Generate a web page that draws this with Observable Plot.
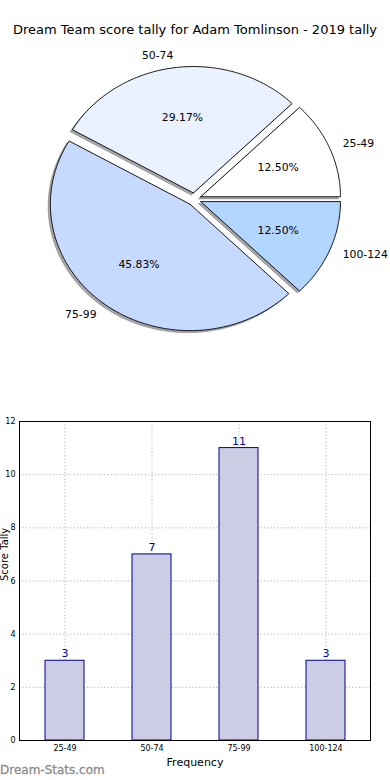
<!DOCTYPE html>
<html>
<head>
<meta charset="utf-8">
<script src="https://cdn.jsdelivr.net/npm/d3@7"></script>
<script src="https://cdn.jsdelivr.net/npm/@observablehq/plot@0.6"></script>
<style>
  html, body { margin: 0; padding: 0; background: #fff; }
  #wrap { position: relative; width: 390px; height: 780px; overflow: hidden; font-family: "DejaVu Sans", sans-serif; }
  #title { position: absolute; left: 0; top: 22px; width: 390px; text-align: center; font-size: 13px; color: #000; white-space: nowrap; }
  #pie { position: absolute; left: 0; top: 0; }
  #bar { position: absolute; left: 0; top: 400px; }
  #mark { position: absolute; left: 0; top: 763px; font-size: 12px; color: #8c8c8c; font-family: "DejaVu Sans", sans-serif; -webkit-text-stroke: 0.3px #8c8c8c; }
</style>
</head>
<body>
<div id="wrap">
  <div id="pie"></div>
  <div id="bar"></div>
  <div id="title">Dream Team score tally for Adam Tomlinson - 2019 tally</div>
  <div id="mark">Dream-Stats.com</div>
</div>
<script>
// ---- data ----
const categories = ["25-49", "50-74", "75-99", "100-124"];
const counts = [3, 7, 11, 3];
const pieColors = ["#ffffff", "#eaf1ff", "#c6d9ff", "#b3d6ff"];
const yTicks = [0, 2, 4, 6, 8, 10, 12];
const yLabel = "Score Tally";
const xLabel = "Frequency";

// ---- pie geometry (matplotlib-like, start at 0deg, counterclockwise, explode 0.05) ----
const total = d3.sum(counts);
const explode = 0.05;
const slices = [];
let acc = 0;
counts.forEach((c, i) => {
  const t1 = acc / total * 360;
  acc += c;
  const t2 = acc / total * 360;
  const mid = (t1 + t2) / 2 * Math.PI / 180;
  slices.push({cat: categories[i], count: c, t1, t2, mid, dx: explode * Math.cos(mid), dy: explode * Math.sin(mid), color: pieColors[i], pct: (c / total * 100).toFixed(2) + "%"});
});
function slicePoly(s, ox, oy) {
  const pts = [{cat: s.cat, x: s.dx + ox, y: s.dy + oy}];
  const n = Math.max(2, Math.ceil(s.t2 - s.t1));
  for (let k = 0; k <= n; k++) {
    const a = (s.t1 + (s.t2 - s.t1) * k / n) * Math.PI / 180;
    pts.push({cat: s.cat, x: s.dx + ox + Math.cos(a), y: s.dy + oy + Math.sin(a)});
  }
  pts.push({cat: s.cat, x: s.dx + ox, y: s.dy + oy});
  return pts;
}
const shadowPts = slices.flatMap(s => slicePoly(s, -0.016, -0.016));
const wedgePts = slices.flatMap(s => slicePoly(s, 0, 0));
const labelPts = slices.map(s => ({cat: s.cat, x: 1.1 * Math.cos(s.mid) + s.dx, y: 1.1 * Math.sin(s.mid) + s.dy, anchor: Math.cos(s.mid) > 0 ? "start" : "end"}));
const pctPts = slices.map(s => ({pct: s.pct, x: 0.6 * Math.cos(s.mid) + s.dx, y: 0.6 * Math.sin(s.mid) + s.dy}));

const W = 390, PH = 400;
const cx = 193.8, cy = 198.7, rx = 139.7, ry = 126.4;
const pie = Plot.plot({
  width: W, height: PH, margin: 0,
  style: {fontFamily: "DejaVu Sans, sans-serif", background: "transparent"},
  x: {domain: [-cx / rx, (W - cx) / rx], range: [0, W], axis: null},
  y: {domain: [(cy - PH) / ry, cy / ry], range: [PH, 0], axis: null},
  color: {domain: categories, range: pieColors},
  marks: [
    Plot.line(shadowPts, {x: "x", y: "y", z: "cat", fill: "#6e6e6e", fillOpacity: 0.6, stroke: "#6e6e6e", strokeOpacity: 0.6, strokeWidth: 0.8, curve: "linear"}),
    Plot.line(wedgePts, {x: "x", y: "y", z: "cat", fill: d => d.cat, stroke: "#000", strokeWidth: 0.9, curve: "linear"}),
    Plot.text(labelPts.filter(d => d.anchor === "start"), {x: "x", y: "y", text: "cat", textAnchor: "start", fontSize: 10.8, fill: "#000"}),
    Plot.text(labelPts.filter(d => d.anchor === "end"), {x: "x", y: "y", text: "cat", textAnchor: "end", fontSize: 10.8, fill: "#000"}),
    Plot.text(pctPts, {x: "x", y: "y", text: "pct", fontSize: 10.8, fill: "#000"})
  ]
});
document.getElementById("pie").appendChild(pie);

// ---- bar chart ----
const barData = categories.map((c, i) => ({cat: c, n: counts[i]}));
const BH = 380;
const bar = Plot.plot({
  width: W, height: BH,
  marginLeft: 19, marginRight: 20, marginTop: 21, marginBottom: 40,
  style: {fontFamily: "DejaVu Sans, sans-serif", background: "transparent", overflow: "visible"},
  x: {domain: categories, paddingInner: 0.555, paddingOuter: 0.2775, align: 0.5, label: null},
  y: {domain: [0, 12], label: null},
  marks: [
    Plot.gridY(yTicks, {stroke: "#aaa", strokeOpacity: 0.9, strokeDasharray: "1.2,2.2", strokeWidth: 1}),
    Plot.gridX(categories, {stroke: "#aaa", strokeOpacity: 0.9, strokeDasharray: "1.2,2.2", strokeWidth: 1}),
    Plot.barY(barData, {x: "cat", y: "n", fill: "#ccccE5", stroke: "#00008b", strokeWidth: 1}),
    Plot.text(barData, {x: "cat", y: "n", text: d => String(d.n), dy: -7, fontSize: 11, fill: "#000099"}),
    Plot.axisY(yTicks, {anchor: "left", tickSize: 0, tickPadding: 4, fontSize: 8, label: null}),
    Plot.axisX(categories, {anchor: "bottom", tickSize: 0, tickPadding: 5, fontSize: 8, label: null}),
    Plot.frame({stroke: "#000", strokeWidth: 1}),
    Plot.text([yLabel], {frameAnchor: "left", dx: -15, rotate: -90, fontSize: 10, fill: "#000"}),
    Plot.text([xLabel], {frameAnchor: "bottom", dy: 25, fontSize: 11, fill: "#000"})
  ]
});
document.getElementById("bar").appendChild(bar);
</script>
</body>
</html>
